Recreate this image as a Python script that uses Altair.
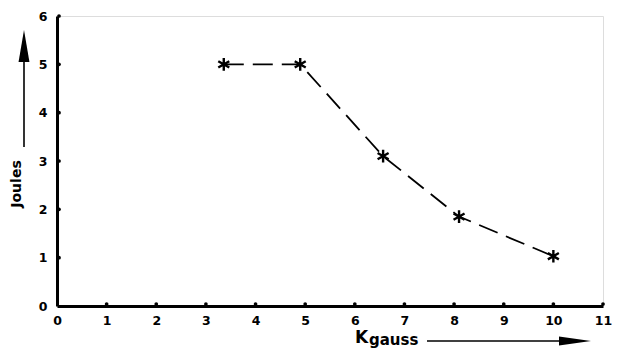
import altair as alt
import pandas as pd

# data
kgauss = [3.36, 4.9, 6.57, 8.1, 10.0]
joules = [5.0, 5.0, 3.1, 1.85, 1.03]
x_ticks = list(range(0, 12))
y_ticks = list(range(0, 7))

df = pd.DataFrame({"k": kgauss, "j": joules})
xt = pd.DataFrame({"k": x_ticks[1:], "j": [0] * (len(x_ticks) - 1)})
yt = pd.DataFrame({"k": [0] * (len(y_ticks) - 1), "j": y_ticks[1:]})

FONT = "DejaVu Sans"
xs = alt.Scale(domain=[0, 11], nice=False, zero=False)
ys = alt.Scale(domain=[0, 6], nice=False, zero=False)

x_axis = alt.Axis(values=x_ticks, title=None, grid=False, ticks=False, domainWidth=3,
                  domainColor="black", labelFont=FONT, labelFontWeight="bold",
                  labelFontSize=12.5, labelColor="black", labelPadding=8,
                  labelFlush=False, labelOverlap=False)
y_axis = alt.Axis(values=y_ticks, title=None, grid=False, ticks=False, domainWidth=3,
                  domainColor="black", labelFont=FONT, labelFontWeight="bold",
                  labelFontSize=12.5, labelColor="black", labelPadding=10,
                  labelFlush=False, labelOverlap=False)

line = alt.Chart(df).mark_line(interpolate="linear", color="black", strokeWidth=1.8,
                               strokeDash=[20, 9]).encode(
    x=alt.X("k:Q", scale=xs, axis=x_axis),
    y=alt.Y("j:Q", scale=ys, axis=y_axis),
)

ASTER = "M0,-1L0,1M-0.87,-0.5L0.87,0.5M-0.87,0.5L0.87,-0.5"
stars = alt.Chart(df).mark_point(shape=ASTER, filled=False, color="black",
                                 strokeWidth=2.4, size=160, opacity=1).encode(
    x=alt.X("k:Q", scale=xs), y=alt.Y("j:Q", scale=ys))

xdots = alt.Chart(xt).mark_circle(color="black", size=14, opacity=1, yOffset=-2).encode(
    x=alt.X("k:Q", scale=xs), y=alt.Y("j:Q", scale=ys))
ydots = alt.Chart(yt).mark_circle(color="black", size=14, opacity=1, xOffset=2).encode(
    x=alt.X("k:Q", scale=xs), y=alt.Y("j:Q", scale=ys))

one = pd.DataFrame({"a": [0]})

# decorations: axis titles with arrows
joules_txt = alt.Chart(one).mark_text(text="Joules", angle=270, font=FONT, fontWeight="bold",
                                      fontSize=14, color="black").encode(
    x=alt.value(-40), y=alt.value(168))
v_shaft = alt.Chart(one).mark_rule(color="black", strokeWidth=1.6).encode(
    x=alt.value(-33), y=alt.value(131), y2=alt.value(44))
v_head = alt.Chart(one).mark_point(shape="M0,-1L0.34,1L-0.34,1Z", filled=True, color="black",
                                   size=1024, opacity=1).encode(
    x=alt.value(-33), y=alt.value(30))

k_txt = alt.Chart(one).mark_text(text="K", font=FONT, fontSize=17, fontWeight="bold",
                                 color="black", align="left", baseline="alphabetic").encode(
    x=alt.value(298), y=alt.value(327))
gauss_txt = alt.Chart(one).mark_text(text="gauss", font=FONT, fontSize=15, fontWeight="bold",
                                     color="black", align="left", baseline="alphabetic").encode(
    x=alt.value(312), y=alt.value(329))
h_shaft = alt.Chart(one).mark_rule(color="black", strokeWidth=1.6).encode(
    x=alt.value(370), x2=alt.value(504), y=alt.value(325))
h_head = alt.Chart(one).mark_point(shape="M1,0L-1,-0.28L-1,0.28Z", filled=True, color="black",
                                   size=1024, opacity=1).encode(
    x=alt.value(518), y=alt.value(325))

chart = alt.layer(line, stars, xdots, ydots, joules_txt, v_shaft, v_head,
                  k_txt, gauss_txt, h_shaft, h_head).properties(
    width=546, height=290,
    autosize=alt.AutoSizeParams(type="none"),
    padding={"left": 49, "top": 8, "right": 10, "bottom": 42},
).configure_view(stroke=None).configure(background="white")

chart.save("out.html", embed_options={"renderer": "svg", "actions": False})
